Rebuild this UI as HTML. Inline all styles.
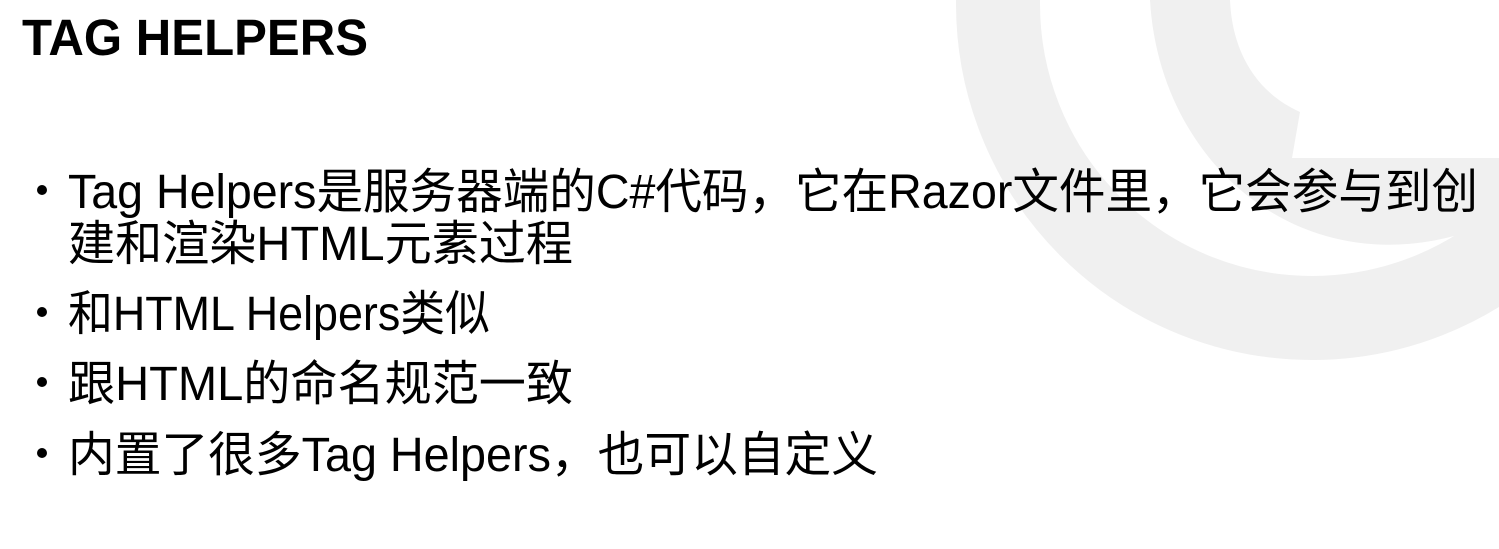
<!DOCTYPE html>
<html><head><meta charset="utf-8"><style>
html,body{margin:0;padding:0;background:#fff;width:1499px;height:549px;overflow:hidden}
svg{display:block}
text{font-family:"Liberation Sans","Noto Sans CJK SC",sans-serif;fill:#000}
</style></head><body>
<svg width="1499" height="549" viewBox="0 0 1499 549">
  <circle cx="1312" cy="4" r="314" fill="none" stroke="#f0f0f0" stroke-width="84"/>
  <path d="M1150 0 C1160 175 1320 300 1499 220 L1499 158 L1292 158 L1300 112 C1255 92 1232 50 1230 0 Z" fill="#f0f0f0"/>
  <text x="22" y="55" font-size="51" font-weight="bold" textLength="346" lengthAdjust="spacingAndGlyphs">TAG HELPERS</text>
  <circle cx="42" cy="190" r="5" fill="#000"/>
  <circle cx="42" cy="312" r="5" fill="#000"/>
  <circle cx="42" cy="382" r="5" fill="#000"/>
  <circle cx="42" cy="453" r="5" fill="#000"/>
  <text x="68" y="208" font-size="48" textLength="1410" lengthAdjust="spacingAndGlyphs">Tag Helpers是服务器端的C#代码，它在Razor文件里，它会参与到创</text>
  <text x="68" y="260" font-size="48" textLength="505" lengthAdjust="spacingAndGlyphs">建和渲染HTML元素过程</text>
  <text x="68" y="330" font-size="48" textLength="422" lengthAdjust="spacingAndGlyphs">和HTML Helpers类似</text>
  <text x="68" y="400" font-size="48" textLength="505" lengthAdjust="spacingAndGlyphs">跟HTML的命名规范一致</text>
  <text x="68" y="471" font-size="48" textLength="810" lengthAdjust="spacingAndGlyphs">内置了很多Tag Helpers，也可以自定义</text>
</svg>
</body></html>
